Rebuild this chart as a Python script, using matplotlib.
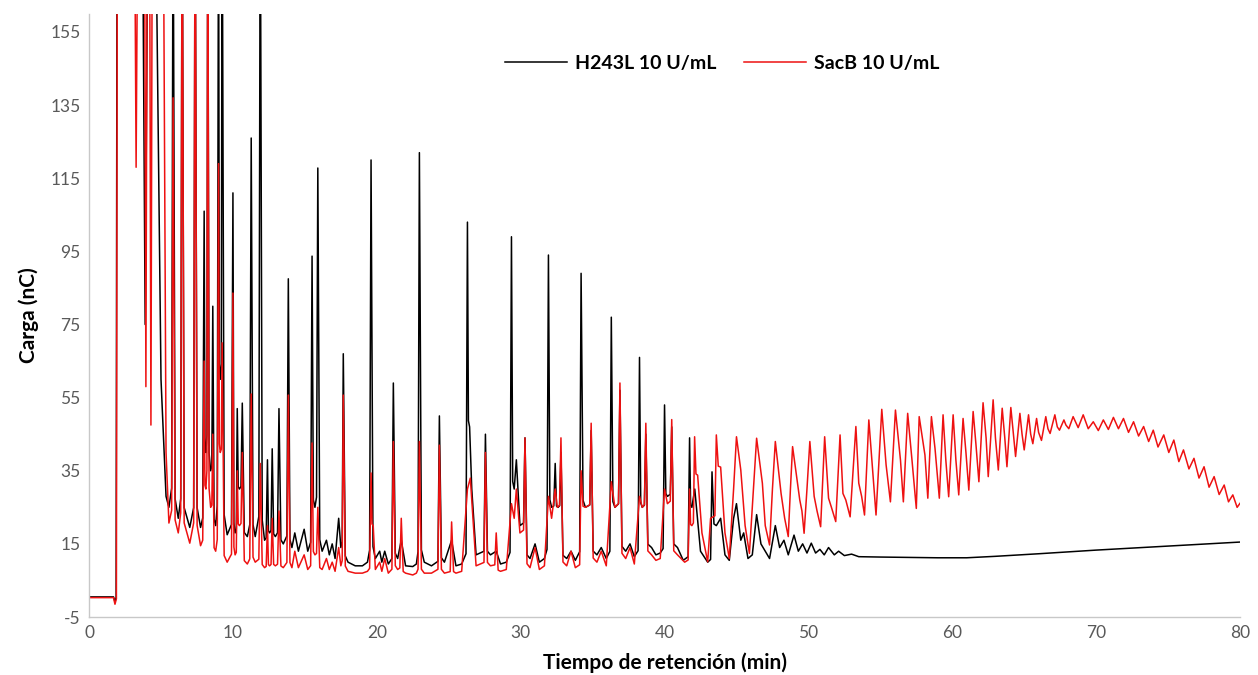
import matplotlib
matplotlib.use("Agg")
import matplotlib.pyplot as plt

# (time min, charge nC) vertices; 200 = off scale
h243l_early = [
    (0.0, 0.5), (1.7, 0.5), (1.8, -0.8), (1.88, 0.3), (1.95, 200), (3.7, 200),
    (3.9, 75), (4.1, 200), (4.6, 200), (5.0, 60), (5.35, 28), (5.55, 25),
    (5.84, 200), (6.2, 22), (6.47, 200), (7.0, 19.5), (7.37, 200), (7.75, 19.5),
    (8.0, 106), (8.12, 40), (8.25, 200), (8.45, 35), (8.6, 80), (8.8, 20),
    (9.0, 200), (9.12, 60), (9.25, 200), (9.6, 17.5), (10.0, 111), (10.15, 18),
    (10.3, 52), (10.45, 30), (10.65, 53.5), (11.0, 17), (11.27, 126), (11.55, 17),
    (11.9, 200), (12.2, 16), (12.4, 38), (12.55, 18), (12.73, 41), (12.95, 17),
    (13.2, 52), (13.5, 15), (13.85, 87.5), (14.1, 14), (14.3, 18), (14.55, 13),
    (14.95, 19), (15.2, 13), (15.5, 93.7), (15.7, 25), (15.9, 117.8), (16.2, 13),
    (16.5, 16), (16.7, 12), (16.9, 15), (17.1, 11), (17.35, 22), (17.5, 14),
    (17.67, 67), (18.0, 10), (18.5, 9), (19.0, 9), (19.35, 10), (19.6, 120),
    (19.9, 11), (20.2, 13), (20.35, 10), (20.55, 13), (20.8, 9.5),
]
h243l_mid = [
    (21.15, 59), (21.45, 11), (21.7, 16), (22.0, 9), (22.5, 8.8), (22.75, 9.5),
    (22.96, 122), (23.3, 10), (23.8, 9), (24.35, 50), (24.7, 10), (25.2, 16),
    (25.5, 9), (25.9, 9.5), (26.3, 103), (26.45, 47), (26.6, 30), (26.9, 12),
    (27.55, 45), (27.9, 12), (28.3, 13), (28.6, 9.5), (29.0, 10), (29.36, 99),
    (29.55, 30), (29.7, 38), (29.95, 20), (30.3, 44), (30.65, 11), (31.0, 15),
    (31.3, 10), (31.65, 11), (31.93, 94), (32.15, 25), (32.4, 37), (32.6, 25),
    (32.8, 40), (33.2, 11), (33.5, 13), (33.8, 10.5), (34.2, 89), (34.5, 25),
    (34.9, 46), (35.3, 12), (35.6, 14), (35.95, 11), (36.3, 77), (36.55, 25),
    (36.9, 57), (37.3, 13), (37.6, 15), (37.9, 11.5), (38.26, 66), (38.45, 25),
    (38.7, 45), (39.1, 14), (39.4, 12), (39.7, 12.5), (40.0, 53), (40.2, 28),
    (40.5, 47), (40.9, 14), (41.3, 10.5), (41.74, 44), (41.9, 25), (42.1, 30),
    (42.5, 13), (43.0, 10), (43.3, 34.7), (43.6, 20), (43.9, 22), (44.2, 12),
    (44.5, 10.5), (44.8, 22), (45.0, 26), (45.3, 16), (45.5, 18), (45.8, 11),
    (46.1, 12), (46.4, 23), (46.7, 15), (47.0, 13), (47.3, 11), (47.7, 20),
    (48.0, 14), (48.3, 16), (48.6, 12), (49.0, 17.4), (49.3, 13), (49.6, 15),
    (49.9, 12.5), (50.2, 15.2), (50.5, 12.5), (50.8, 13.5), (51.1, 12),
    (51.4, 14), (51.8, 12), (52.1, 13), (52.5, 11.8), (53.0, 12.2), (53.5, 11.5),
]
h243l_tail = [
    (55.0, 11.4), (57.0, 11.3), (59.0, 11.2), (61.0, 11.2), (63.0, 11.6),
    (66.0, 12.3), (70.0, 13.3), (75.0, 14.4), (80.0, 15.5),
]

sacb_early = [
    (0.0, 0.3), (1.7, 0.3), (1.8, -1.5), (1.9, 0.0), (1.97, 200), (3.15, 200),
    (3.27, 118), (3.4, 200), (3.85, 200), (3.95, 58), (4.05, 200), (4.2, 200),
    (4.3, 47.5), (4.4, 200), (5.15, 200), (5.35, 40), (5.55, 20.7), (5.84, 137),
    (6.2, 18), (6.47, 200), (7.0, 15.2), (7.37, 200), (7.75, 14.5), (8.0, 65),
    (8.12, 30), (8.25, 200), (8.45, 25), (8.6, 45), (8.8, 13), (9.0, 119),
    (9.12, 40), (9.25, 70), (9.6, 10), (10.0, 83.6), (10.15, 12), (10.3, 35),
    (10.45, 20), (10.65, 40), (11.0, 9.5), (11.27, 56), (11.55, 10), (11.9, 37),
    (12.2, 8.5), (12.4, 20), (12.55, 9), (12.73, 22), (12.95, 9), (13.2, 24),
    (13.5, 8.5), (13.85, 55.7), (14.1, 8.5), (14.3, 13), (14.55, 8.5),
    (14.95, 12), (15.2, 8), (15.5, 42.6), (15.7, 12), (15.9, 25), (16.2, 8),
    (16.5, 11), (16.7, 8), (16.9, 10), (17.1, 7.5), (17.35, 14), (17.5, 9),
    (17.67, 55.7), (18.0, 7.5), (18.5, 7), (19.0, 7), (19.35, 7.5), (19.6, 34.4),
    (19.75, 20), (19.9, 8), (20.2, 10), (20.35, 7.5), (20.55, 11), (20.8, 7),
]
sacb_mid = [
    (21.15, 43), (21.45, 8), (21.7, 22), (22.0, 7), (22.5, 6.5), (22.75, 7),
    (22.96, 43), (23.3, 7), (23.8, 7), (24.35, 42), (24.7, 7), (25.2, 21),
    (25.5, 7), (25.9, 7.5), (26.3, 30), (26.5, 33), (26.9, 9), (27.55, 40),
    (27.9, 9), (28.3, 18), (28.6, 7.5), (29.0, 8), (29.36, 26), (29.55, 22),
    (29.7, 30), (29.95, 18), (30.3, 44), (30.65, 8.5), (31.0, 14), (31.3, 8),
    (31.65, 9), (31.93, 28), (32.15, 22), (32.4, 30), (32.55, 25), (32.8, 44),
    (33.2, 9), (33.5, 13), (33.8, 8.5), (34.2, 35), (34.5, 25), (34.9, 48),
    (35.3, 10), (35.6, 13), (35.95, 9), (36.3, 32), (36.55, 25), (36.9, 59),
    (37.3, 11), (37.6, 14), (37.9, 9.5), (38.26, 28), (38.45, 25), (38.7, 48),
    (39.1, 12), (39.4, 10.5), (39.7, 11), (40.0, 30), (40.2, 26), (40.5, 49),
    (40.9, 12), (41.4, 10), (41.74, 30), (41.9, 20), (42.09, 44.3), (42.3, 33.8),
    (42.6, 18), (43.0, 10.1), (43.2, 22), (43.6, 44.8), (43.9, 36), (44.2, 18),
    (44.5, 11), (44.8, 30), (45.0, 44.3), (45.3, 35.2), (45.6, 20), (45.9, 12.4),
    (46.15, 28), (46.4, 43.9), (46.8, 31.6), (47.0, 20), (47.3, 14.7),
    (47.5, 30), (47.7, 43), (48.1, 28.8), (48.35, 22), (48.6, 17), (48.75, 30),
    (48.9, 41.6), (49.4, 27), (49.55, 24), (49.7, 17.9), (49.9, 30), (50.1, 43),
    (50.4, 28), (50.6, 24), (50.85, 19.7), (51.13, 44.3), (51.4, 27.5),
    (51.6, 25), (51.9, 21.1), (52.2, 44.8), (52.4, 28.8), (52.6, 27),
    (52.9, 22.4), (53.3, 47.1), (53.5, 31.6), (53.7, 28), (53.9, 22.9),
    (54.2, 48.9), (54.5, 33.4), (54.7, 22.9), (55.1, 51.8), (55.4, 36.6),
    (55.7, 26.5), (56.05, 51.6), (56.4, 37.9), (56.6, 26.5), (56.9, 50.7),
    (57.2, 37.9), (57.5, 24.7), (57.7, 49.8), (58.1, 39.3), (58.3, 27.5),
    (58.55, 49.8), (58.8, 41.1), (59.1, 27.5),
]
sacb_tail = [
    (59.36, 50.3), (59.55, 38), (59.75, 27.9), (60.06, 50.3), (60.25, 38),
    (60.45, 28.4), (60.75, 49.3), (60.95, 40), (61.15, 29.7), (61.45, 51.2),
    (61.65, 42), (61.85, 32), (62.14, 53.6), (62.35, 44), (62.5, 33.4),
    (62.84, 54.4), (63.0, 44), (63.2, 35.2), (63.47, 52.1), (63.65, 44),
    (63.8, 36.1), (64.07, 52.3), (64.25, 45), (64.4, 38.9), (64.7, 50.7),
    (64.85, 45), (65.0, 40.7), (65.3, 50.3), (65.45, 45), (65.6, 42.4),
    (65.86, 49.3), (66.0, 45.5), (66.2, 43.3), (66.5, 49.8), (66.65, 46.5),
    (66.8, 45.2), (67.13, 50.3), (67.3, 47), (67.45, 46.1), (67.76, 48.9),
    (67.9, 47.5), (68.1, 46.5), (68.4, 49.8), (68.75, 46.8), (69.1, 50.3),
    (69.45, 46.5), (69.8, 48.4), (70.15, 46), (70.5, 48.9), (70.85, 46.3),
    (71.2, 49.6), (71.55, 46.5), (71.9, 49.3), (72.25, 45.5), (72.6, 48.4),
    (72.95, 44.5), (73.3, 47.1), (73.65, 43), (73.97, 46.1), (74.3, 41.5),
    (74.7, 44.8), (75.05, 40), (75.4, 43.4), (75.75, 37.5), (76.07, 40.7),
    (76.45, 35.5), (76.8, 38.4), (77.15, 33), (77.5, 36.1), (77.85, 30.5),
    (78.2, 33.4), (78.55, 28.5), (78.9, 31.1), (79.2, 26.5), (79.5, 28.4),
    (79.8, 25), (80.0, 26.1),
]

x_ticks = [0, 10, 20, 30, 40, 50, 60, 70, 80]
y_ticks = [-5, 15, 35, 55, 75, 95, 115, 135, 155]


def sharpen(pts):
    # narrow the base of the isolated peaks: the foot of each apex sits
    # at the level of the neighbouring valley vertex
    out = [pts[0]]
    for i in range(1, len(pts) - 1):
        (t0, v0), (t, v), (t1, v1) = pts[i - 1], pts[i], pts[i + 1]
        if t < 45 and v > v0 + 8 and v > v1 + 8:
            dl = min(0.1, 0.45 * (t - t0))
            dr = min(0.14, 0.45 * (t1 - t))
            out += [(t - dl, v0 + 0.15 * (v - v0) * 0.2), (t, v), (t + dr, v1 + 0.15 * (v - v1) * 0.2)]
        else:
            out.append((t, v))
    out.append(pts[-1])
    return out


plt.rcParams['font.family'] = ['Lato', 'DejaVu Sans']
plt.rcParams['axes.unicode_minus'] = False

fig = plt.figure(figsize=(12.58, 6.75), dpi=100)
ax = fig.add_axes([0.0708, 0.0859, 0.9149, 0.8938])

h_t, h_q = zip(*sharpen(h243l_early + h243l_mid + h243l_tail))
s_t, s_q = zip(*sharpen(sacb_early + sacb_mid + sacb_tail))
ax.plot(h_t, h_q, color='black', lw=1.1, label='H243L 10 U/mL')
ax.plot(s_t, s_q, color='#ee1111', lw=1.1, label='SacB 10 U/mL')

ax.set_xlim(0, 80)
ax.set_ylim(-5, 160)
ax.set_xticks(x_ticks)
ax.set_yticks(y_ticks)
ax.tick_params(length=0, labelsize=12.5, labelcolor='#595959', pad=6)
for s in ['top', 'right']:
    ax.spines[s].set_visible(False)
for s in ['left', 'bottom']:
    ax.spines[s].set_color('#c8c8c8')
    ax.spines[s].set_linewidth(1.0)

ax.set_xlabel('Tiempo de retención (min)', fontsize=15, fontweight='bold', labelpad=8)
ax.set_ylabel('Carga (nC)', fontsize=15, fontweight='bold', labelpad=8)

ax.legend(loc='center', bbox_to_anchor=(0.55, 0.918), ncol=2, frameon=False,
          prop={'weight': 'bold', 'size': 14}, handlelength=3.2, handletextpad=0.4,
          columnspacing=1.4)

fig.savefig('out.png', dpi=100)
